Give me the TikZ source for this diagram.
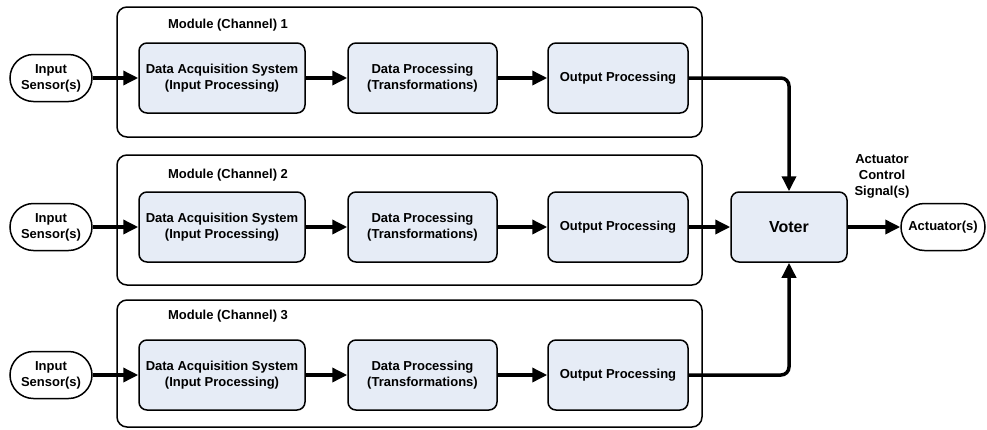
\documentclass[tikz,border=0pt]{standalone}
\usepackage{fontspec}
\setmainfont{Liberation Sans}
\usetikzlibrary{arrows.meta}
\definecolor{boxfill}{HTML}{E6ECF6}
\tikzset{
  txt/.style={font=\fontsize{13}{16}\selectfont\bfseries, align=center},
  module/.style={draw, line width=1.5pt, rounded corners=10pt, inner sep=0pt},
  procbox/.style={txt, draw, line width=1.5pt, rounded corners=8pt, fill=boxfill, inner sep=0pt, minimum height=70pt},
  term/.style={txt, draw, line width=1.5pt, rounded corners=23.5pt, inner sep=0pt, minimum height=47pt},
  conn/.style={line width=3.5pt, -{Triangle[length=15pt,width=14pt]}},
}
\begin{document}
\begin{tikzpicture}[x=1pt,y=-1pt]
\useasboundingbox (0,0) rectangle (987,429);
% modules
\node[module, minimum width=585pt, minimum height=130pt] (m1) at (409.5,72) {};
\node[module, minimum width=585pt, minimum height=130pt] (m2) at (409.5,220) {};
\node[module, minimum width=585pt, minimum height=127pt] (m3) at (409.5,363.5) {};
\node[txt] (l1) at (228,25) {Module (Channel) 1};
\node[txt] (l2) at (228,175) {Module (Channel) 2};
\node[txt] (l3) at (228,316) {Module (Channel) 3};
% row 1
\node[term, minimum width=82pt] (s1) at (51,78) {Input\\Sensor(s)};
\node[procbox, minimum width=166pt] (d1) at (222,78) {Data Acquisition System\\(Input Processing)};
\node[procbox, minimum width=149pt] (p1) at (422.5,78) {Data Processing\\(Transformations)};
\node[procbox, minimum width=140pt] (o1) at (618,78) {Output Processing};
% row 2
\node[term, minimum width=82pt] (s2) at (51,227) {Input\\Sensor(s)};
\node[procbox, minimum width=166pt] (d2) at (222,227) {Data Acquisition System\\(Input Processing)};
\node[procbox, minimum width=149pt] (p2) at (422.5,227) {Data Processing\\(Transformations)};
\node[procbox, minimum width=140pt] (o2) at (618,227) {Output Processing};
% row 3
\node[term, minimum width=82pt] (s3) at (51,375) {Input\\Sensor(s)};
\node[procbox, minimum width=166pt] (d3) at (222,375) {Data Acquisition System\\(Input Processing)};
\node[procbox, minimum width=149pt] (p3) at (422.5,375) {Data Processing\\(Transformations)};
\node[procbox, minimum width=140pt] (o3) at (618,375) {Output Processing};
% voter and actuator
\node[procbox, minimum width=116pt, font=\fontsize{16}{18}\selectfont\bfseries] (v) at (789,227) {Voter};
\node[term, minimum width=84pt] (a) at (943,227) {Actuator(s)};
\node[txt] (acs) at (882,176) {Actuator\\Control\\Signal(s)};
% connectors
\foreach \r in {1,2,3}{
  \draw[conn] (s\r) -- (d\r);
  \draw[conn] (d\r) -- (p\r);
  \draw[conn] (p\r) -- (o\r);
}
\draw[conn] (o2) -- (v);
\draw[conn, rounded corners=8pt] (o1.east) -| (v.north);
\draw[conn, rounded corners=8pt] (o3.east) -| (v.south);
\draw[conn] (v) -- (a);
\end{tikzpicture}
\end{document}
